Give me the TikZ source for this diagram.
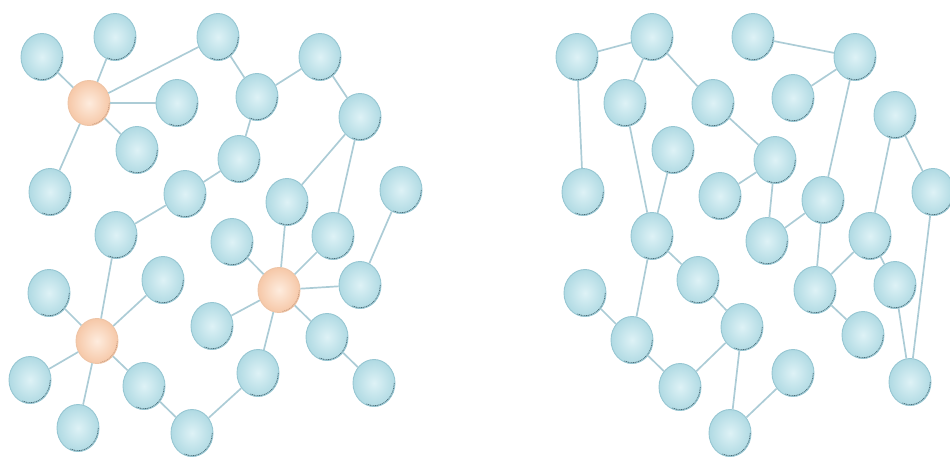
\documentclass[tikz,border=0pt]{standalone}
\usetikzlibrary{shapes.geometric}
\definecolor{ballin}{RGB}{222,242,246}
\definecolor{ballout}{RGB}{176,218,227}
\definecolor{ballline}{RGB}{150,198,210}
\definecolor{ballrim}{RGB}{45,75,88}
\definecolor{hubin}{RGB}{254,236,222}
\definecolor{hubout}{RGB}{246,200,168}
\definecolor{hubline}{RGB}{238,196,166}
\definecolor{hubrim}{RGB}{140,95,70}
\definecolor{link}{RGB}{172,204,214}
\tikzset{
  ball/.style={ellipse, minimum width=42pt, minimum height=47pt, inner sep=0pt,
    draw=ballline, line width=0.9pt, shading=radial, inner color=ballin, outer color=ballout,
    path picture={\draw[ballrim, line width=1.5pt, dash pattern=on 1pt off 0.8pt, opacity=0.85]
      ([shift={(-112:20.6pt and 23.1pt)}]path picture bounding box.center)
      arc[start angle=-112, end angle=0, x radius=20.6pt, y radius=23.1pt];}},
  hub/.style={ellipse, minimum width=42pt, minimum height=45pt, inner sep=0pt,
    draw=hubline, line width=0.9pt, shading=radial, inner color=hubin, outer color=hubout,
    path picture={\draw[hubrim, line width=1.4pt, dash pattern=on 1pt off 0.9pt, opacity=0.6]
      ([shift={(-80:20.6pt and 22.1pt)}]path picture bounding box.center)
      arc[start angle=-80, end angle=0, x radius=20.6pt, y radius=22.1pt];}},
  linkline/.style={draw=link, line width=1.7pt}
}
\begin{document}
\begin{tikzpicture}[x=1pt,y=1pt]
\useasboundingbox (0,0) rectangle (950,-458);
% left network
\node[ball] (a1) at (42,-57) {};
\node[ball] (a2) at (115,-37) {};
\node[ball] (a3) at (218,-37) {};
\node[ball] (a4) at (320,-57) {};
\node[hub]  (h1) at (89,-103) {};
\node[ball] (a5) at (177,-103) {};
\node[ball] (a6) at (257,-97) {};
\node[ball] (a7) at (360,-117) {};
\node[ball] (a8) at (137,-150) {};
\node[ball] (a9) at (239,-159) {};
\node[ball] (a10) at (50,-192) {};
\node[ball] (a11) at (185,-194) {};
\node[ball] (a12) at (287,-202) {};
\node[ball] (a13) at (401,-190) {};
\node[ball] (a14) at (116,-235) {};
\node[ball] (a15) at (232,-242) {};
\node[ball] (a16) at (333,-236) {};
\node[ball] (a17) at (163,-280) {};
\node[ball] (a18) at (49,-293) {};
\node[hub]  (h2) at (279,-290) {};
\node[ball] (a19) at (360,-285) {};
\node[ball] (a20) at (212,-326) {};
\node[hub]  (h3) at (97,-341) {};
\node[ball] (a21) at (327,-337) {};
\node[ball] (a22) at (30,-380) {};
\node[ball] (a23) at (144,-386) {};
\node[ball] (a24) at (258,-373) {};
\node[ball] (a25) at (374,-383) {};
\node[ball] (a26) at (78,-428) {};
\node[ball] (a27) at (192,-433) {};
% right network
\node[ball] (b1) at (577,-57) {};
\node[ball] (b2) at (652,-37) {};
\node[ball] (b3) at (625,-103) {};
\node[ball] (b4) at (713,-103) {};
\node[ball] (b5) at (673,-150) {};
\node[ball] (b6) at (583,-192) {};
\node[ball] (b7) at (720,-196) {};
\node[ball] (b8) at (652,-236) {};
\node[ball] (b9) at (753,-37) {};
\node[ball] (b10) at (855,-57) {};
\node[ball] (b11) at (793,-98) {};
\node[ball] (b12) at (895,-115) {};
\node[ball] (b13) at (775,-160) {};
\node[ball] (b14) at (823,-200) {};
\node[ball] (b15) at (933,-192) {};
\node[ball] (b16) at (870,-236) {};
\node[ball] (b17) at (767,-241) {};
\node[ball] (b18) at (585,-293) {};
\node[ball] (b19) at (698,-280) {};
\node[ball] (b20) at (632,-340) {};
\node[ball] (b21) at (742,-327) {};
\node[ball] (b22) at (680,-387) {};
\node[ball] (b23) at (730,-433) {};
\node[ball] (b24) at (815,-290) {};
\node[ball] (b25) at (895,-285) {};
\node[ball] (b26) at (863,-335) {};
\node[ball] (b28) at (793,-373) {};
\node[ball] (b29) at (910,-382) {};
% left links
\foreach \u/\v in {h1/a1,h1/a2,h1/a3,h1/a5,h1/a8,h1/a10,
  a3/a6,a6/a4,a4/a7,a6/a9,a9/a11,a11/a14,a7/a12,a7/a16,a13/a19,
  a14/h3,h3/a17,h3/a18,h3/a22,h3/a26,h3/a23,a23/a27,a27/a24,
  a24/h2,h2/a15,h2/a12,h2/a16,h2/a19,h2/a20,h2/a21,a21/a25}
  \draw[linkline] (\u) -- (\v);
% right links
\foreach \u/\v in {b1/b2,b1/b6,b2/b3,b2/b4,b4/b13,b3/b8,b5/b8,b7/b13,
  b9/b10,b10/b11,b10/b14,b12/b16,b12/b15,b13/b17,b17/b14,b14/b24,
  b16/b24,b16/b25,b24/b26,b25/b29,b15/b29,b23/b28,b21/b23,
  b8/b19,b8/b20,b18/b20,b20/b22,b22/b21,b19/b21}
  \draw[linkline] (\u) -- (\v);
\end{tikzpicture}
\end{document}
